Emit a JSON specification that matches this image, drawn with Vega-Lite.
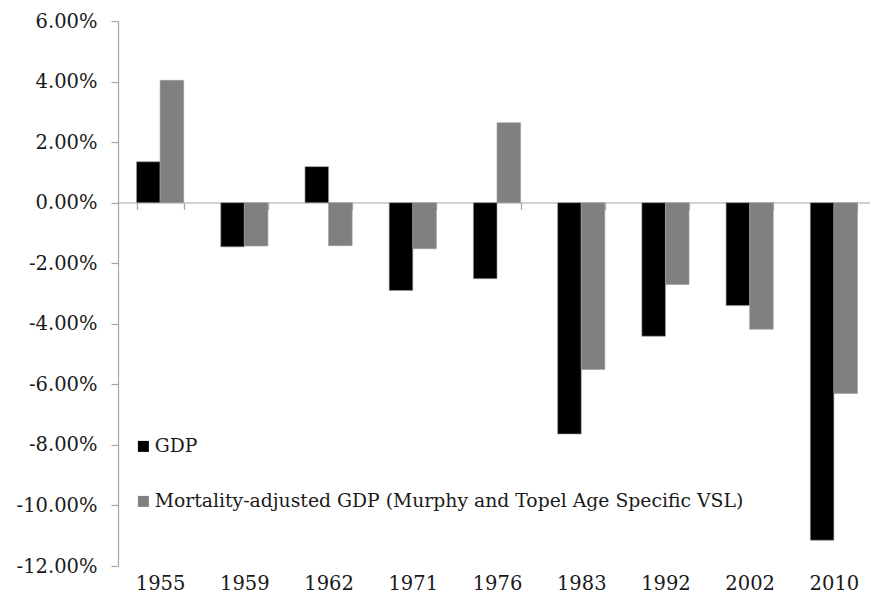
{
  "$schema": "https://vega.github.io/schema/vega-lite/v6.json",
  "width": 752,
  "height": 545,
  "autosize": {"type": "none"},
  "padding": {"left": 118, "top": 21, "right": 0, "bottom": 35},
  "background": "white",
  "config": {"view": {"stroke": null}, "font": "DejaVu Serif"},
  "data": {"values": [
    {"year": "1955", "series": "GDP", "v": 0.0135},
    {"year": "1955", "series": "Mortality-adjusted GDP (Murphy and Topel Age Specific VSL)", "v": 0.0404},
    {"year": "1959", "series": "GDP", "v": -0.0146},
    {"year": "1959", "series": "Mortality-adjusted GDP (Murphy and Topel Age Specific VSL)", "v": -0.0143},
    {"year": "1962", "series": "GDP", "v": 0.0119},
    {"year": "1962", "series": "Mortality-adjusted GDP (Murphy and Topel Age Specific VSL)", "v": -0.0142},
    {"year": "1971", "series": "GDP", "v": -0.029},
    {"year": "1971", "series": "Mortality-adjusted GDP (Murphy and Topel Age Specific VSL)", "v": -0.0152},
    {"year": "1976", "series": "GDP", "v": -0.0251},
    {"year": "1976", "series": "Mortality-adjusted GDP (Murphy and Topel Age Specific VSL)", "v": 0.0264},
    {"year": "1983", "series": "GDP", "v": -0.0764},
    {"year": "1983", "series": "Mortality-adjusted GDP (Murphy and Topel Age Specific VSL)", "v": -0.0551},
    {"year": "1992", "series": "GDP", "v": -0.0441},
    {"year": "1992", "series": "Mortality-adjusted GDP (Murphy and Topel Age Specific VSL)", "v": -0.027},
    {"year": "2002", "series": "GDP", "v": -0.034},
    {"year": "2002", "series": "Mortality-adjusted GDP (Murphy and Topel Age Specific VSL)", "v": -0.0418},
    {"year": "2010", "series": "GDP", "v": -0.1115},
    {"year": "2010", "series": "Mortality-adjusted GDP (Murphy and Topel Age Specific VSL)", "v": -0.063}
  ]},
  "mark": {"type": "bar", "stroke": "#9a9a9a", "strokeWidth": 0.6},
  "encoding": {
    "x": {
      "field": "year", "type": "nominal", "sort": null,
      "scale": {"range": [0, 758], "paddingInner": 0.44, "paddingOuter": 0.22},
      "axis": {
        "title": null, "offset": -363.5, "labelAngle": 0,
        "domainColor": "#a6a6a6", "domainWidth": 1.2,
        "tickColor": "#a6a6a6", "tickSize": 7, "tickWidth": 1.2, "tickBand": "extent",
        "labelPadding": 365, "labelFontSize": 19.5, "labelColor": "#1a1a1a", "labelFont": "DejaVu Serif"
      }
    },
    "xOffset": {"field": "series", "type": "nominal", "sort": null},
    "y": {
      "field": "v", "type": "quantitative",
      "scale": {"domain": [-0.12, 0.06], "nice": false, "zero": false},
      "axis": {
        "title": null, "format": ".2%", "values": [-0.12, -0.1, -0.08, -0.06, -0.04, -0.02, 0, 0.02, 0.04, 0.06],
        "labelExpr": "replace(format(datum.value, '.2%'), '\u2212', '-')",
        "grid": false, "domainColor": "#a6a6a6", "domainWidth": 1.2,
        "tickColor": "#a6a6a6", "tickSize": 7, "tickWidth": 1.2,
        "labelPadding": 14, "labelFontSize": 19.5, "labelColor": "#1a1a1a", "labelFont": "DejaVu Serif"
      }
    },
    "color": {
      "field": "series", "type": "nominal", "sort": null,
      "scale": {"range": ["#000000", "#808080"]},
      "legend": {
        "title": null, "orient": "none", "legendX": 16, "legendY": 416,
        "symbolType": "square", "symbolSize": 121, "symbolStrokeWidth": 0,
        "labelFontSize": 18.8, "labelColor": "#1a1a1a", "labelFont": "DejaVu Serif",
        "labelOffset": 2, "rowPadding": 35, "labelLimit": 800
      }
    }
  }
}
